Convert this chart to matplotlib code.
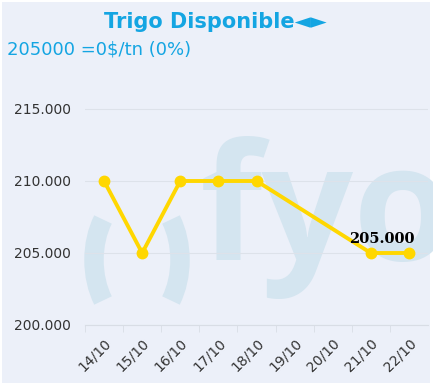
import matplotlib.pyplot as plt
from matplotlib.patches import Arc, Rectangle
from matplotlib.transforms import ScaledTranslation

# data
fechas = ['14/10', '15/10', '16/10', '17/10', '18/10', '19/10', '20/10', '21/10', '22/10']
precios = [210000, 205000, 210000, 210000, 210000, None, None, 205000, 205000]
yticks = [200000, 205000, 210000, 215000]
titulo = 'Trigo Disponible\u25c4\u25ba'
subtitulo = '205000 =0$/tn (0%)'
ultimo = '205.000'

W, H = 433, 389
bg = '#ecf0f9'
wm = '#d4e5f0'
azul = '#14a5e2'
amarillo = '#ffd700'

fig = plt.figure(figsize=(W / 100, H / 100), dpi=100)
fig.patch.set_facecolor('white')

# background layer in pixel coordinates
back = fig.add_axes([0, 0, 1, 1], zorder=0)
back.set_xlim(0, W)
back.set_ylim(H, 0)
back.axis('off')
back.add_patch(Rectangle((2, 2), 428, 381, facecolor=bg, edgecolor='none'))

# fyo watermark
back.add_patch(Arc((137, 260), 86, 132, theta1=130, theta2=230, color=wm, lw=14))
back.add_patch(Arc((137, 260), 86, 132, theta1=-50, theta2=50, color=wm, lw=14))
back.text(200, 260, 'fyo', fontsize=116, fontweight='bold', family='Open Sans',
          color=wm, ha='left', va='baseline')

# titles
back.text(215, 28, titulo, fontsize=15, fontweight='bold', color=azul,
          ha='center', va='baseline')
back.text(7, 54, subtitulo, fontsize=13, color=azul, ha='left', va='baseline')

# main chart
ax = fig.add_axes([85 / W, (H - 325) / H, 343 / W, 225 / H], zorder=1)
ax.patch.set_alpha(0)

xs = [i for i, v in enumerate(precios) if v is not None]
ys = [v for v in precios if v is not None]
ax.plot(xs, ys, color=amarillo, lw=2.8, marker='o', ms=7.5, zorder=3,
        solid_joinstyle='round')

ax.annotate(ultimo, (xs[-2], ys[-2]), xytext=(8, 5), textcoords='offset points',
            ha='center', va='bottom', fontsize=10.5, fontweight='bold',
            family='DejaVu Serif', color='black', zorder=4)

ax.set_xlim(-0.5, len(fechas) - 0.5)
ax.set_ylim(200000, 215625)
ax.set_yticks(yticks)
ax.set_yticklabels([f'{v:,}'.replace(',', '.') for v in yticks],
                   fontsize=10, color='#333333')
ax.set_xticks(range(len(fechas)))
ax.set_xticklabels(fechas, rotation=45, ha='right', rotation_mode='anchor',
                   fontsize=10, color='#333333')
shift = ScaledTranslation(-4 / 100, 0, fig.dpi_scale_trans)
for lab in ax.get_xticklabels():
    lab.set_transform(lab.get_transform() + shift)
ax.set_xticks([i - 0.5 for i in range(len(fechas))], minor=True)
ax.tick_params(axis='x', which='major', length=0, pad=8)
ax.tick_params(axis='x', which='minor', length=5, color='#d8dde5')
ax.tick_params(axis='y', length=0, pad=10)

ax.grid(axis='y', color='#dde2ea', lw=0.8)
for s in ['top', 'right', 'left']:
    ax.spines[s].set_visible(False)
ax.spines['bottom'].set_color('#d8dde5')

fig.savefig('out.png', dpi=100, facecolor=fig.get_facecolor())
